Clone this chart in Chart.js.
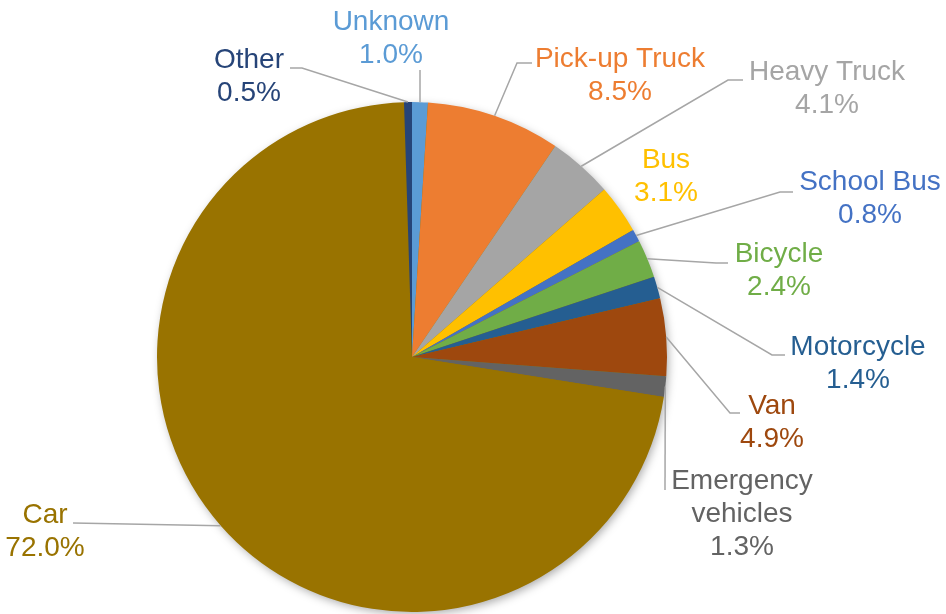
<!DOCTYPE html>
<html>
<head>
<meta charset="utf-8">
<script src="https://cdn.jsdelivr.net/npm/chart.js@4"></script>
<style>
  html, body { margin: 0; padding: 0; background: #fff; }
  #wrap { width: 946px; height: 614px; }
</style>
</head>
<body>
<div id="wrap"><canvas id="myChart" width="946" height="614"></canvas></div>
<script>
var categories = ['Unknown', 'Pick-up Truck', 'Heavy Truck', 'Bus', 'School Bus', 'Bicycle',
  'Motorcycle', 'Van', 'Emergency vehicles', 'Car', 'Other'];
var shares = [1.0, 8.5, 4.1, 3.1, 0.8, 2.4, 1.4, 4.9, 1.3, 72.0, 0.5];
var colors = ['#5B9BD5', '#ED7D31', '#A5A5A5', '#FFC000', '#4472C4', '#70AD47',
  '#255E91', '#9E480E', '#636363', '#997300', '#264478'];

// where each label sits (center x, first baseline) and the knee of its leader line
var labelLayout = [
  { x: 391, y: 30, lead: [[420, 70]] },
  { x: 620, y: 67, lead: [[532, 63], [517, 63]] },
  { x: 827, y: 80, lead: [[743, 80], [728, 80]] },
  { x: 666, y: 168, lead: null },
  { x: 870, y: 190, lead: [[793, 192], [780, 192]] },
  { x: 779, y: 262, lead: [[728, 263], [716, 263]] },
  { x: 858, y: 355, lead: [[785, 355], [772, 355]] },
  { x: 772, y: 414, lead: [[740, 413], [730, 413]] },
  { x: 742, y: 489, lead: [[665, 490]], wrap: true },
  { x: 45, y: 523, lead: [[73, 523]] },
  { x: 249, y: 68, lead: [[290, 68], [302, 68]] }
];

var lineGap = 33;

var pieShadow = {
  id: 'pieShadow',
  beforeDatasetsDraw: function (chart) {
    var arc = chart.getDatasetMeta(0).data[0];
    if (!arc) return;
    var ctx = chart.ctx;
    ctx.save();
    ctx.shadowColor = 'rgba(0,0,0,0.35)';
    ctx.shadowBlur = 10;
    ctx.shadowOffsetX = 2;
    ctx.shadowOffsetY = 3;
    ctx.fillStyle = '#997300';
    ctx.beginPath();
    ctx.arc(arc.x, arc.y, arc.outerRadius - 1, 0, Math.PI * 2);
    ctx.fill();
    ctx.restore();
  }
};

var sliceLabels = {
  id: 'sliceLabels',
  afterDatasetsDraw: function (chart) {
    var ctx = chart.ctx;
    var arcs = chart.getDatasetMeta(0).data;
    ctx.save();
    arcs.forEach(function (arc, i) {
      var lay = labelLayout[i];
      var mid = (arc.startAngle + arc.endAngle) / 2;
      var ex = arc.x + Math.cos(mid) * arc.outerRadius;
      var ey = arc.y + Math.sin(mid) * arc.outerRadius;
      if (lay.lead) {
        ctx.strokeStyle = '#A6A6A6';
        ctx.lineWidth = 1.5;
        ctx.beginPath();
        ctx.moveTo(lay.lead[0][0], lay.lead[0][1]);
        for (var k = 1; k < lay.lead.length; k++) ctx.lineTo(lay.lead[k][0], lay.lead[k][1]);
        ctx.lineTo(ex, ey);
        ctx.stroke();
      }
      var lines = lay.wrap ? categories[i].split(' ') : [categories[i]];
      lines.push(shares[i].toFixed(1) + '%');
      ctx.fillStyle = colors[i];
      ctx.font = '28px "Liberation Sans", Arial, sans-serif';
      ctx.textAlign = 'center';
      ctx.textBaseline = 'alphabetic';
      lines.forEach(function (t, j) {
        ctx.fillText(t, lay.x, lay.y + j * lineGap);
      });
    });
    ctx.restore();
  }
};

var ctx = document.getElementById('myChart').getContext('2d');
var myChart = new Chart(ctx, {
  type: 'pie',
  data: {
    labels: categories,
    datasets: [{
      data: shares,
      backgroundColor: colors,
      borderWidth: 0
    }]
  },
  options: {
    responsive: false,
    animation: false,
    layout: { padding: { left: 157, right: 279, top: 102, bottom: 2 } },
    plugins: {
      legend: { display: false },
      tooltip: { enabled: false }
    }
  },
  plugins: [pieShadow, sliceLabels]
});
</script>
</body>
</html>
